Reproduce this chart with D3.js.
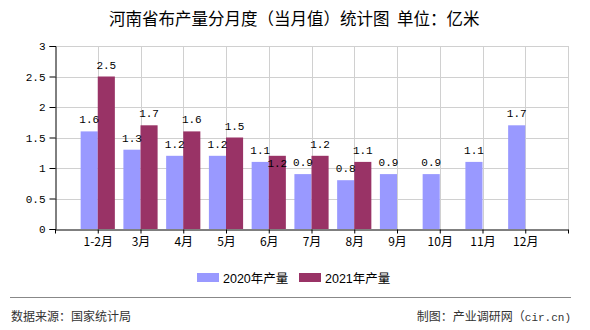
<!DOCTYPE html>
<html><head><meta charset="utf-8">
<script src="https://cdn.jsdelivr.net/npm/d3@7"></script>
<style>
html,body{margin:0;padding:0;background:#fff;}
svg{display:block;}
</style></head>
<body>
<svg id="c" width="590" height="330"></svg>
<script>
const categories = ["1-2月","3月","4月","5月","6月","7月","8月","9月","10月","11月","12月"];
const series2020 = [1.6,1.3,1.2,1.2,1.1,0.9,0.8,0.9,0.9,1.1,1.7];
const series2021 = [2.5,1.7,1.6,1.5,1.2,1.2,1.1,null,null,null,null];
const seriesNames = ["2020年产量","2021年产量"];
const yTicks = [0,0.5,1,1.5,2,2.5,3];
const colors = ["#9999FF","#993366"];

const svg = d3.select("#c");
const L=55, R=568, T=46, B=229;
const x = d3.scaleLinear().domain([0,12]).range([L,R]);
const y = d3.scaleLinear().domain([0,3]).range([B,T]);
const bw = (x(1)-x(0))*0.4;
const mono = "'Liberation Mono','DejaVu Sans Mono',monospace";
const cjk = "'Noto Sans CJK SC','Noto Sans',sans-serif";

// title
svg.append("text").attr("x",109).attr("y",25).attr("font-family",cjk).attr("font-size",16.5)
  .attr("fill","#000").style("white-space","pre").text("河南省布产量分月度（当月值）统计图  单位：亿米");

// grid
const g = svg.append("g");
g.selectAll(".hg").data(yTicks.filter(d=>d>0)).enter().append("line")
  .attr("x1",L).attr("x2",R).attr("y1",d=>Math.round(y(d))+0.5).attr("y2",d=>Math.round(y(d))+0.5)
  .attr("stroke","#d0d0d0").attr("stroke-width",1);
g.selectAll(".vg").data(d3.range(1,13)).enter().append("line")
  .attr("x1",d=>Math.round(x(d))+0.5).attr("x2",d=>Math.round(x(d))+0.5).attr("y1",T).attr("y2",B)
  .attr("stroke","#d0d0d0").attr("stroke-width",1);

// bars
const bars = svg.append("g");
bars.selectAll(".b0").data(series2020).enter().append("rect")
  .attr("x",(d,i)=>x(i+1)-bw).attr("width",bw)
  .attr("y",d=>y(d)).attr("height",d=>B-y(d)).attr("fill",colors[0]);
bars.selectAll(".b1").data(series2021.map((v,i)=>({v,i})).filter(d=>d.v!=null)).enter().append("rect")
  .attr("x",d=>x(d.i+1)).attr("width",bw)
  .attr("y",d=>y(d.v)).attr("height",d=>B-y(d.v)).attr("fill",colors[1]);

// axes
const yAxis = d3.axisLeft(y).tickValues(yTicks).tickSize(6).tickFormat(d=>String(d));
const ya = svg.append("g").attr("transform",`translate(${L+0.5},0)`).call(yAxis);
ya.select(".domain").attr("stroke","#000");
ya.selectAll(".tick line").attr("stroke","#000");
ya.selectAll(".tick text").attr("font-family",mono).attr("font-size",11).attr("fill","#000").attr("dx",-1);

const xAxis = d3.axisBottom(x).tickValues(d3.range(0,13)).tickSize(4).tickSizeOuter(0)
  .tickFormat(d=> (d>=1 && d<=11) ? categories[d-1] : "");
const xa = svg.append("g").attr("transform",`translate(0,${B+0.5})`).call(xAxis);
xa.select(".domain").attr("stroke","#000");
xa.selectAll(".tick line").attr("stroke","#000");
xa.selectAll(".tick text").attr("font-family",cjk).attr("font-size",12).attr("fill","#000").attr("dy","0.75em").attr("y",7);

// labels with simple collision avoidance
const lab = svg.append("g").attr("font-family",mono).attr("font-size",11).attr("fill","#000").attr("text-anchor","middle");
const placed = [];
series2020.forEach((v,i)=>{
  const cx = x(i+1)-bw/2, cy = y(v)-8;
  placed[i] = {cx,cy};
  lab.append("text").attr("x",cx).attr("y",cy).text(v.toFixed(1));
});
series2021.forEach((v,i)=>{
  if(v==null) return;
  const cx = x(i+1)+bw/2; let cy = y(v)-8;
  const o = placed[i];
  if(o && Math.abs(o.cx-cx) < 21 && Math.abs(o.cy-cy) < 12) cy = o.cy + 13;
  lab.append("text").attr("x",cx).attr("y",cy).text(v.toFixed(1));
});

// legend
const leg = svg.append("g");
const legX = [197,299];
seriesNames.forEach((n,k)=>{
  leg.append("rect").attr("x",legX[k]).attr("y",273).attr("width",22).attr("height",9).attr("fill",colors[k]);
  leg.append("text").attr("x",legX[k]+26).attr("y",282.5).attr("font-family","'Liberation Sans','Noto Sans CJK SC',sans-serif")
    .attr("font-size",12.5).attr("fill","#000").text(n);
});

// footer
svg.append("line").attr("x1",10).attr("x2",571).attr("y1",297.5).attr("y2",297.5).attr("stroke","#888").attr("stroke-width",1);
svg.append("text").attr("x",11).attr("y",320.5).attr("font-family",cjk).attr("font-size",12).attr("fill","#333").text("数据来源：国家统计局");
const ft = svg.append("text").attr("x",571).attr("y",320.5).attr("text-anchor","end").attr("font-family",cjk).attr("font-size",12).attr("fill","#333");
ft.append("tspan").text("制图：产业调研网（");
ft.append("tspan").attr("font-family",mono).attr("font-size",11).text("cir.cn)");
</script>
</body></html>
